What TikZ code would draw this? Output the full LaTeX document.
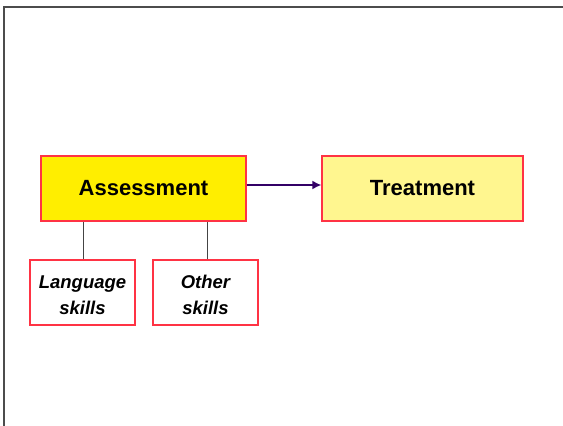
\documentclass[tikz,border=0pt]{standalone}
\usepackage{fontspec}
\setmainfont{Liberation Sans}
\usetikzlibrary{arrows.meta}
\definecolor{boxred}{HTML}{FF3344}
\definecolor{strongyellow}{HTML}{FFEE00}
\definecolor{paleyellow}{HTML}{FFF68F}
\definecolor{arrowpurple}{HTML}{330066}
\definecolor{linkgray}{HTML}{444444}
\tikzset{
  mainbox/.style={draw=boxred, line width=1.2pt, minimum width=205pt, minimum height=65pt,
    inner sep=0pt, font=\fontsize{22}{26}\selectfont\bfseries},
  skillbox/.style={draw=boxred, line width=1.2pt, fill=white, minimum width=105pt, minimum height=65pt,
    inner sep=0pt},
  skilltext/.style={align=center, yshift=-2.5pt, font=\fontsize{18.5}{26.3}\selectfont\bfseries\itshape},
  link/.style={draw=linkgray, line width=0.9pt},
  flow/.style={draw=arrowpurple, line width=2pt, -{Latex[length=9pt,width=9pt]}}
}
\begin{document}
\begin{tikzpicture}[x=1pt,y=-1pt]
  \useasboundingbox (0,0) rectangle (563,426);
  \fill[white] (0,0) rectangle (563,426);
  % page frame
  \draw[gray!60!black, line width=1.4pt] (4,426) -- (4,7) -- (563,7);

  \node[mainbox, fill=strongyellow] (assess) at (143.5,188.5) {\raisebox{-1.5pt}{Assessment}};
  \node[mainbox, fill=paleyellow, minimum width=201pt] (treat) at (422.5,188.5) {\raisebox{-1.5pt}{Treatment}};
  \node[skillbox, label={[skilltext]center:Language\\skills}] (lang) at (82.5,292.5) {};
  \node[skillbox, label={[skilltext]center:Other\\skills}] (other) at (205.5,292.5) {};

  \draw[link] (lang.north -| 83,0) -- (assess.south -| 83,0);
  \draw[link] (other.north -| 207,0) -- (assess.south -| 207,0);
  \draw[flow] (assess.east |- 0,185) -- (treat.west |- 0,185);
\end{tikzpicture}
\end{document}
